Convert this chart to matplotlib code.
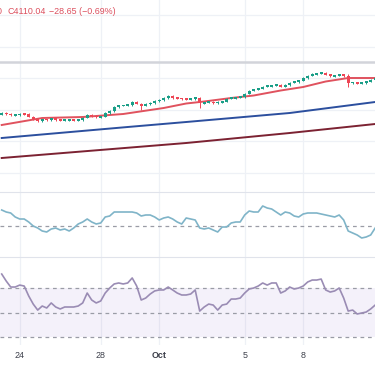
import numpy as np
import matplotlib
matplotlib.use('Agg')
import matplotlib.pyplot as plt

# 4H candles
closes = [4008, 4006, 4004, 4004.5, 4006, 4005.8, 4001, 3996, 3992, 3995,
          3994.5, 3997, 3994, 3993.5, 3994, 3994.2, 3994, 3994.5, 3999, 4004,
          4002, 4000, 4001, 4008, 4012, 4020, 4023, 4023.5, 4024, 4030,
          4027, 4023, 4026, 4028, 4032, 4034, 4038, 4042, 4038, 4037,
          4036.5, 4036, 4036.5, 4039, 4028, 4029, 4030, 4028.5, 4030, 4031,
          4037, 4038, 4039, 4040, 4047, 4053, 4055, 4057, 4061, 4062,
          4063, 4064, 4061, 4064, 4069, 4070, 4073, 4078, 4083, 4086,
          4087, 4088.5, 4085, 4082, 4083, 4085, 4082, 4068, 4069.5, 4067,
          4068.5, 4071, 4074, 4077]
first_open = 4005
long_highs = {44: 4041, 77: 4086}
long_lows = {31: 4015, 44: 4019, 77: 4060}
last_close = 4110.04

# moving averages (candle index, value)
red_ma_idx = [0, 9, 18, 27, 36, 41, 45, 51, 56, 62, 67, 72, 77, 83]
red_ma_val = [3984, 3998, 4000, 4006, 4018, 4027, 4031, 4038, 4043, 4053, 4060, 4071, 4078, 4078]
blue_ma_idx = [0, 28, 41, 64, 83]
blue_ma_val = [3958, 3980, 3990, 4008, 4030]
maroon_ma_idx = [0, 41, 64, 83]
maroon_ma_val = [3918, 3948, 3968, 3986]

# middle pane oscillator
osc_vals = [16, 14, 13, 9, 7, 7, 4, 0, -2, -5,
            -6, -3, -2, -4, -3, -5, -2, 2, 4, 7,
            4, 2, 3, 9, 10, 14, 14, 14, 14, 14,
            13, 10, 11, 11, 9, 6, 8, 9, 7, 4,
            2, 8, 7, 6, -2, -3, -2, -4, -6, -1,
            -1, 3, 4, 4, 11, 15, 14, 14, 20, 18,
            17, 14, 11, 14, 13, 10, 9, 12, 13, 13,
            13, 12, 11, 10, 9, 11, 6, -5, -7, -9,
            -12, -11, -9, -2]

# RSI
rsi_vals = [81.4, 75.7, 70.8, 70.8, 72.4, 71.6, 63.5, 56.9, 52.0, 55.3,
            53.7, 57.8, 54.5, 52.9, 54.5, 54.5, 54.5, 55.3, 57.8, 65.9,
            60.2, 57.8, 59.4, 65.9, 70.0, 73.3, 74.1, 73.3, 74.1, 78.2,
            71.6, 60.2, 61.8, 65.1, 67.6, 68.4, 68.4, 70.8, 68.4, 65.9,
            64.3, 64.3, 65.1, 68.4, 51.2, 54.5, 56.9, 56.1, 52.0, 56.1,
            56.9, 61.0, 61.0, 61.8, 65.9, 69.2, 70.0, 71.6, 74.1, 72.4,
            74.1, 74.1, 65.9, 67.6, 70.8, 69.2, 70.0, 71.6, 74.9, 76.5,
            76.5, 77.3, 68.4, 66.7, 67.6, 70.0, 61.8, 51.2, 52.0, 48.8,
            49.6, 50.4, 52.9, 56.1]

tick_idx = [4, 22, 35, 54, 67]
tick_lab = ['24', '28', 'Oct', '5', '8']

GREEN = '#1a9e87'
RED = '#ee4655'
GRID = '#eef1f6'
SEP = '#e0e3eb'

W, H = 375, 366
fig = plt.figure(figsize=(W / 100, H / 100), dpi=100)
fig.patch.set_facecolor('white')

def px_axes(top, bottom):
    return fig.add_axes([0, 1 - bottom / H, 1, (bottom - top) / H])

ax = px_axes(0, 192)
ax_osc = px_axes(192, 257)
ax_rsi = px_axes(257, 345)

n = len(closes)
x = np.arange(n)
c = np.array(closes, dtype=float)
o = np.array([first_open] + closes[:-1], dtype=float)
up = c >= o
col = np.where(up, GREEN, RED)
hi = np.maximum(o, c) + 1.5
lo = np.minimum(o, c) - 1.5
for k, v in long_highs.items():
    hi[k] = v
for k, v in long_lows.items():
    lo[k] = v

for a in (ax, ax_osc, ax_rsi):
    a.set_xlim(-0.38, 82.96)
    a.set_xticks(tick_idx)
    a.grid(axis='x', color=GRID, lw=0.9)
    a.set_axisbelow(True)
    for s in a.spines.values():
        s.set_visible(False)
    a.tick_params(length=0, labelleft=False, labelbottom=False)

# main pane
ax.set_ylim(3850, 4234)
ax.set_yticks([3889, 3952, 4015, 4078, 4141, 4204])
ax.grid(axis='y', color=GRID, lw=0.9)
ax.axhline(last_close, color='#d2d4da', lw=1.8, zorder=1)
ax.plot(maroon_ma_idx, maroon_ma_val, color='#7c2232', lw=1.4, zorder=2)
ax.plot(blue_ma_idx, blue_ma_val, color='#2c4f9e', lw=1.4, zorder=2)
ax.plot(red_ma_idx, red_ma_val, color='#e0525e', lw=1.4, zorder=2)
ax.vlines(x, lo, hi, colors=col, lw=0.7, zorder=3)
mid = (o + c) / 2
body = np.maximum(np.abs(c - o), 3.2)
ax.bar(x, body, bottom=mid - body / 2, width=0.72, color=col, lw=0, zorder=4)

# oscillator pane
ax_osc.set_ylim(-31, 34)
ax_osc.set_yticks([])
ax_osc.spines['top'].set_visible(True)
ax_osc.spines['top'].set_color(SEP)
ax_osc.axhline(0, color='#9a9ca6', lw=0.9, ls=(0, (3, 3)))
ax_osc.plot(x, osc_vals, color='#7fb4c8', lw=1.2)

# RSI pane
ax_rsi.set_ylim(23.5, 95.3)
ax_rsi.set_yticks([])
ax_rsi.spines['top'].set_visible(True)
ax_rsi.spines['top'].set_color(SEP)
ax_rsi.axhspan(30, 70, color='#7e57c2', alpha=0.08, lw=0)
for lvl in (70, 50, 30):
    ax_rsi.axhline(lvl, color='#9a9ca6', lw=0.9, ls=(0, (3, 3)))
ax_rsi.plot(x, rsi_vals, color='#9a8cb4', lw=1.2)
ax_rsi.tick_params(labelbottom=True, pad=4, labelsize=6.4, labelcolor='#3c3f4a')
ax_rsi.set_xticklabels(tick_lab, family='Liberation Sans')
for t in ax_rsi.get_xticklabels():
    if t.get_text() == 'Oct':
        t.set_fontweight('bold')

# header text
ty = 1 - 11 / H
hdr = dict(color='#dc4f5d', fontsize=6.4, va='center', family='Liberation Sans')
fig.text(-3 / W, ty, '0', **hdr)
fig.text(7 / W, ty, 'C4110.04', **hdr)
fig.text(49 / W, ty, '\u221228.65 (\u22120.69%)', **hdr)

fig.savefig('out.png', dpi=100)
